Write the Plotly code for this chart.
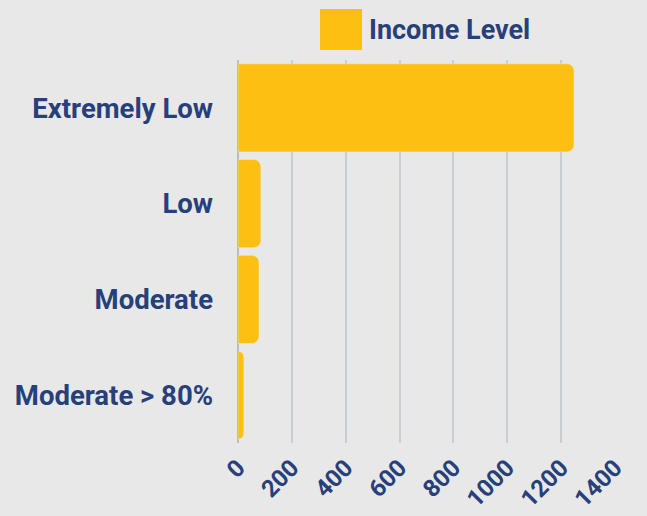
import plotly.graph_objects as go

categories = ["Extremely Low", "Low", "Moderate", "Moderate > 80%"]
values = [1248, 85, 78, 22]
tick_vals = [0, 200, 400, 600, 800, 1000, 1200, 1400]
series_name = "Income Level"

BAR = "#FDBF12"
TXT = "#27407A"
BG = "#E8E8E8"
FONT = "Roboto, sans-serif"

fig = go.Figure(go.Bar(
    x=values, y=categories, orientation="h", marker_color=BAR,
    name=series_name, showlegend=False,
))
fig.update_layout(
    width=647, height=516,
    paper_bgcolor=BG, plot_bgcolor=BG,
    margin=dict(l=238, r=32, t=60, b=73),
    bargap=0.08, barcornerradius=7,
    font=dict(family=FONT, color=TXT, size=22, weight=700),
)
fig.update_yaxes(autorange="reversed", showgrid=False, ticks="", ticklabelstandoff=24,
                 automargin=False,
                 tickfont=dict(size=27.5, family=FONT, color=TXT, weight=700))
fig.update_xaxes(range=[0, 1400], tickvals=tick_vals, tickangle=-45,
                 showgrid=True, gridcolor="#C9CDD4", gridwidth=1.5,
                 zeroline=True, zerolinecolor="#B8BCC4", zerolinewidth=1.5,
                 ticks="", ticklabelstandoff=5, automargin=False,
                 tickfont=dict(size=24, family=FONT, color=TXT, weight=700))
# legend drawn as swatch + label
fig.add_shape(type="rect", xref="paper", yref="paper",
              x0=(320-238)/377, x1=(362-238)/377, y0=(443-50)/383, y1=(443-9)/383,
              fillcolor=BAR, line_width=0)
fig.add_annotation(text=series_name, xref="paper", yref="paper",
                   x=(367-238)/377, y=(443-30)/383, xanchor="left", yanchor="middle",
                   showarrow=False, font=dict(size=27, family=FONT, color=TXT, weight=700))
fig.write_html("out.html", config={"displayModeBar": False},
               post_script="document.body.style.margin='0';")
